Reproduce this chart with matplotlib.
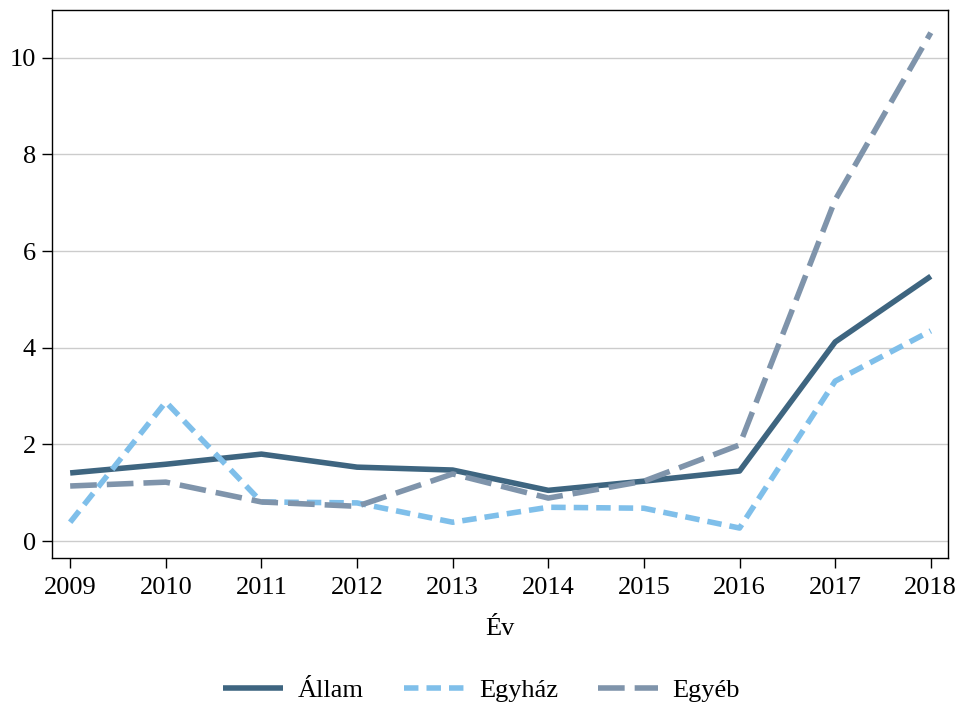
import numpy as np
import matplotlib
matplotlib.use("Agg")
import matplotlib.pyplot as plt

### Data
years = [2009, 2010, 2011, 2012, 2013, 2014, 2015, 2016, 2017, 2018]
allam = [1.41, 1.59, 1.80, 1.53, 1.47, 1.05, 1.24, 1.45, 4.12, 5.48]
egyhaz = [0.39, 2.88, 0.81, 0.79, 0.39, 0.70, 0.68, 0.27, 3.31, 4.35]
egyeb = [1.14, 1.22, 0.81, 0.72, 1.39, 0.89, 1.24, 1.99, 7.06, 10.52]
series_names = ["Állam", "Egyház", "Egyéb"]
y_ticks = [0, 2, 4, 6, 8, 10]

plt.rcParams["font.family"] = ["Liberation Serif", "DejaVu Serif"]
fs = 19

fig = plt.figure(figsize=(9.63, 7.08), dpi=100)
ax = fig.add_axes([52/963, 1 - 558/708, 896/963, 548/708])

lw = 4.0
l1, = ax.plot(years, allam, color="#3e6580", lw=lw, solid_capstyle="butt")
l2, = ax.plot(years, egyhaz, color="#7fbfea", lw=lw, dashes=(2.6, 1.45), dash_capstyle="butt")
l3, = ax.plot(years, egyeb, color="#7f94ab", lw=lw, dashes=(4.8, 1.8), dash_capstyle="butt")

ax.set_xlim(2008.81, 2018.18)
ax.set_ylim(-0.35, 10.99)
ax.set_xticks(years)
ax.set_yticks(y_ticks)
ax.tick_params(labelsize=fs, length=7.5, width=1, direction="out", color="black")
ax.tick_params(axis="x", pad=6)
ax.tick_params(axis="y", pad=4)
ax.grid(axis="y", color="#cccccc", lw=1)
ax.set_axisbelow(True)
for s in ax.spines.values():
    s.set_linewidth(1)
    s.set_color("black")
ax.set_xlabel("Év", fontsize=fs, labelpad=14)

fig.legend([l1, l2, l3], series_names, loc="center", bbox_to_anchor=(0.5, 1 - 690/708),
           ncol=3, frameon=False, fontsize=fs, handlelength=2.3, columnspacing=1.5,
           handletextpad=0.55)

fig.savefig("out.png", dpi=100)
